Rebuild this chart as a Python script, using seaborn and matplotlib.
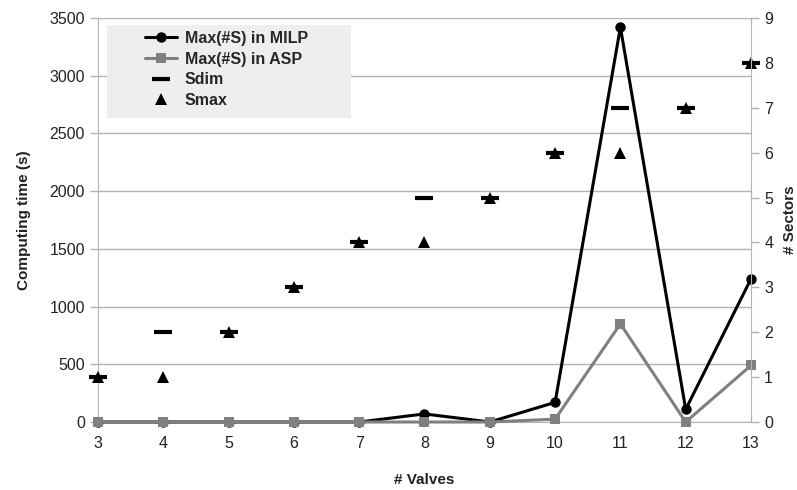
import matplotlib
matplotlib.use('Agg')
import seaborn as sns
import matplotlib.pyplot as plt
from matplotlib.patches import Rectangle

# Data
valves = [3, 4, 5, 6, 7, 8, 9, 10, 11, 12, 13]
milp_time = [0, 0, 0, 0, 0, 70, 0, 170, 3420, 110, 1240]
asp_time = [0, 0, 0, 0, 0, 0, 0, 25, 850, 0, 490]
sdim = [1, 2, 2, 3, 4, 5, 5, 6, 7, 7, 8]
smax = [1, 1, 2, 3, 4, 4, 5, 6, 6, 7, 8]

sns.set_style("white")
plt.rcParams['font.family'] = ['Liberation Sans', 'DejaVu Sans']

grid_c = '#b3b3b3'
text_c = '#222222'

fig = plt.figure(figsize=(7.97, 4.9), dpi=100)
ax = fig.add_axes([98 / 797, 1 - 422 / 490, 653 / 797, 404 / 490])
ax2 = ax.twinx()

sns.lineplot(x=valves, y=milp_time, ax=ax, color='black', lw=2.2, marker='o',
             markersize=7.5, markeredgewidth=0, label='Max(#S) in MILP', zorder=3,
             clip_on=False)
sns.lineplot(x=valves, y=asp_time, ax=ax, color='#808080', lw=2.2, marker='s',
             markersize=7, markeredgewidth=0, label='Max(#S) in ASP', zorder=4,
             clip_on=False)

sns.lineplot(x=valves, y=sdim, ax=ax2, color='black', linestyle='', marker='_',
             markersize=13, markeredgewidth=3, markeredgecolor='black', label='Sdim',
             clip_on=False)
sns.lineplot(x=valves, y=smax, ax=ax2, color='black', linestyle='', marker='^',
             markersize=9, markeredgewidth=0, label='Smax', clip_on=False)

# left axis
ax.set_xlim(3, 13)
ax.set_ylim(0, 3500)
ax.set_yticks(range(0, 3501, 500))
ax.set_xticks(valves)
ax.grid(axis='y', color=grid_c, lw=1)
ax.grid(axis='x', visible=False)
ax.set_axisbelow(True)
ax2.set_ylim(0, 9)
ax2.set_yticks(range(0, 10))
ax2.grid(False)

for a in (ax, ax2):
    for s in a.spines.values():
        s.set_visible(False)
    a.tick_params(colors=grid_c, labelcolor=text_c, labelsize=11.5, length=6, width=1)
ax.spines['left'].set_visible(True)
ax.spines['left'].set_color(grid_c)
ax.spines['bottom'].set_visible(True)
ax.spines['bottom'].set_color(grid_c)
ax2.spines['right'].set_visible(True)
ax2.spines['right'].set_color(grid_c)
ax.tick_params(axis='x', length=5, pad=5)

ax.set_xlabel('# Valves', fontsize=11, fontweight='bold', color=text_c, labelpad=16)
ax.set_ylabel('Computing time (s)', fontsize=11, fontweight='bold', color=text_c, labelpad=13)
ax2.set_ylabel('# Sectors', fontsize=11, fontweight='bold', color=text_c, labelpad=7)

# combined legend on a light grey box
ax.get_legend().remove()
ax2.get_legend().remove()
h1, l1 = ax.get_legend_handles_labels()
h2, l2 = ax2.get_legend_handles_labels()
ax2.add_patch(Rectangle((0.0138, 0.752), 0.374, 0.230, transform=ax2.transAxes,
                        facecolor='#eeeeee', edgecolor='none', zorder=5))
leg = ax2.legend(h1 + h2, l1 + l2, loc='upper left', bbox_to_anchor=(0.072, 0.968),
                 frameon=False, borderpad=0, borderaxespad=0, handlelength=2.0,
                 handletextpad=0.5, labelspacing=0.35,
                 prop={'weight': 'bold', 'size': 11.5})
leg.set_zorder(6)

fig.savefig('out.png', dpi=100)
